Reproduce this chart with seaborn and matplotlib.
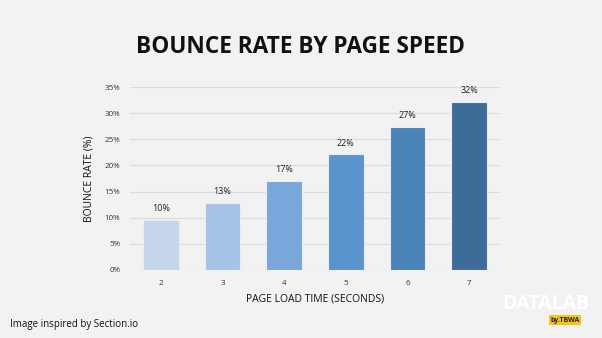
import matplotlib
matplotlib.use("Agg")
import matplotlib.pyplot as plt
import seaborn as sns
import pandas as pd
from matplotlib.ticker import MultipleLocator, FuncFormatter

load_times = ["2", "3", "4", "5", "6", "7"]
bounce_rates = [9.6, 12.9, 17.0, 22.1, 27.3, 32.2]
bar_labels = ["10%", "13%", "17%", "22%", "27%", "32%"]
bar_colors = ["#c5d6ec", "#a6c2e5", "#7aa7da", "#5995cc", "#4a83b6", "#3e6c98"]

sns.set_theme(style="white")
plt.rcParams['font.family'] = ['Open Sans', 'DejaVu Sans']

bg = "#f2f2f2"
fig = plt.figure(figsize=(6.02, 3.38), dpi=100, facecolor=bg)
ax = fig.add_axes([130/602, 1 - 270/338, 370/602, (270 - 87)/338])
ax.set_facecolor(bg)

df = pd.DataFrame({"t": load_times, "r": bounce_rates})
sns.barplot(data=df, x="t", y="r", hue="t", palette=bar_colors, legend=False,
            saturation=1, width=0.58, edgecolor="#e8eef6", linewidth=0.8,
            ax=ax, zorder=3)

ax.set_ylim(0, 35)
ax.set_xlim(-0.5, 5.5)
ax.yaxis.set_major_locator(MultipleLocator(5))
ax.yaxis.set_major_formatter(FuncFormatter(lambda v, p: f"{v:.0f}%"))
ax.grid(axis="y", color="#dcdcdc", linewidth=0.9, zorder=0)
for s in ax.spines.values():
    s.set_visible(False)
ax.tick_params(axis="both", length=0, labelsize=5.8, colors="#333333", pad=7)

for i, (v, lab) in enumerate(zip(bounce_rates, bar_labels)):
    ax.annotate(lab, (i, v), xytext=(0, 5), textcoords="offset points",
                ha="center", va="bottom", fontsize=6.5, color="#222222")

ax.set_xlabel("PAGE LOAD TIME (SECONDS)", fontsize=7.5, color="#111111", labelpad=5)
ax.set_ylabel("BOUNCE RATE (%)", fontsize=7.5, color="#111111", labelpad=7)

fig.text(0.5, 1 - 47/338, "BOUNCE RATE BY PAGE SPEED", ha="center", va="center",
         fontsize=16.3, fontweight="bold", color="#111111")
fig.text(10/602, 1 - 325/338, "Image inspired by Section.io", ha="left", va="center",
         fontsize=7, color="#111111")

# logo
fig.text(546/602, 1 - 304/338, "DATALAB", ha="center", va="center",
         fontsize=14, fontweight="bold", color="white")
fig.text(565/602, 1 - 320/338, "by.TBWA", ha="center", va="center",
         fontsize=5, fontweight="bold", color="#222222",
         bbox=dict(boxstyle="square,pad=0.25", fc="#f5c518", ec="none"))

fig.savefig("out.png", dpi=100, facecolor=bg)
